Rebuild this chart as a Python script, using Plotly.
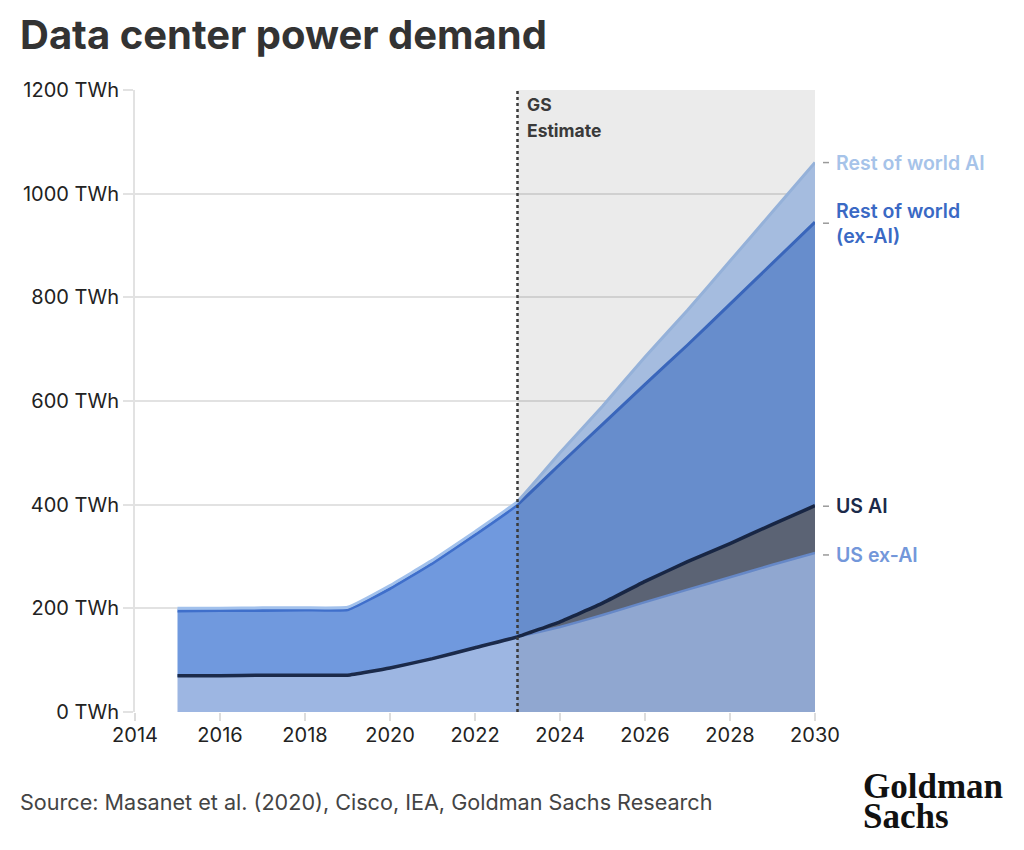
import plotly.graph_objects as go
import numpy as np

years = [2015, 2016, 2017, 2018, 2019, 2020, 2021, 2022, 2023, 2024, 2025, 2026, 2027, 2028, 2029, 2030]
us_ex_ai = [70, 70, 71, 71, 71, 85, 103, 124, 145, 164, 187, 212, 236, 260, 284, 307]
us_ai = [0, 0, 0, 0, 0, 0, 0, 0, 0, 10, 23, 40, 54, 65, 78, 91]
row_ex_ai = [125, 126, 125, 126, 126, 153, 184, 218, 255, 304, 345, 380, 418, 462, 504, 547]
row_ai = [5, 4, 5, 4, 5, 6, 6, 6, 6, 22, 35, 53, 67, 83, 99, 115]

series_names = ["US ex-AI", "US AI", "Rest of world (ex-AI)", "Rest of world AI"]
series_values = [us_ex_ai, us_ai, row_ex_ai, row_ai]
fill_colors = ["#9db6e2", "#636c7e", "#7099de", "#b3cdf2"]
line_colors = ["#6f94d8", "#1b2a4a", "#3f6fcb", "#a2c1ec"]
line_widths = [2.5, 3.5, 3, 3]
label_texts = ["US ex-AI", "US AI", "Rest of world<br>(ex-AI)", "Rest of world AI"]
label_colors = ["#7397da", "#1b2a4a", "#3a69c4", "#a6c3e9"]

estimate_year = 2023
x_ticks = list(range(2014, 2031, 2))
y_ticks = list(range(0, 1201, 200))

FONT = "Inter"
SMOOTH = 0.3

L, R, T, B = 135, 815, 90, 712
def px(xp):
    return (xp - L) / (R - L)
def py(yp):
    return (B - yp) / (B - T)

fig = go.Figure()

for name, vals, fc in zip(series_names, series_values, fill_colors):
    fig.add_trace(go.Scatter(
        x=years, y=vals, name=name, stackgroup="one", mode="lines",
        line=dict(width=0, shape="spline", smoothing=SMOOTH),
        fillcolor=fc, hoverinfo="skip", showlegend=False,
    ))

cum = np.cumsum(np.array(series_values, dtype=float), axis=0)
for i in [0, 2, 3, 1]:
    fig.add_trace(go.Scatter(
        x=years, y=cum[i], mode="lines",
        line=dict(color=line_colors[i], width=line_widths[i], shape="spline", smoothing=SMOOTH),
        hoverinfo="skip", showlegend=False,
    ))

fig.add_shape(type="rect", xref="x", yref="y", x0=estimate_year, x1=2030, y0=0, y1=1200,
              fillcolor="rgba(0,0,0,0.08)", line=dict(width=0), layer="above")
fig.add_shape(type="line", xref="x", yref="y", x0=estimate_year, x1=estimate_year, y0=0, y1=1200,
              line=dict(color="#3a3a3a", width=2.5, dash="dot"), layer="above")

for txt, yp in [("GS", 104), ("Estimate", 130)]:
    fig.add_annotation(x=estimate_year, y=py(yp), xref="x", yref="paper", xanchor="left",
                       yanchor="middle", xshift=7, showarrow=False, text=f"<b>{txt}</b>",
                       font=dict(family=FONT, size=17.5, color="#3a3a3a"))

label_y = [303, 397, 943, 1060]
for txt, col, ly in zip(label_texts, label_colors, label_y):
    fig.add_shape(type="line", xref="paper", yref="y", x0=px(823), x1=px(829), y0=ly, y1=ly,
                  line=dict(color="#9a9a9a", width=1.5))
    fig.add_annotation(x=px(834), y=ly, xref="paper", yref="y", xanchor="left", yanchor="middle",
                       align="left", showarrow=False, text=txt,
                       font=dict(family=FONT, size=19.5, color=col, weight=600))

fig.add_annotation(x=px(18), y=py(34), xref="paper", yref="paper", showarrow=False,
                   xanchor="left", yanchor="middle", text="<b>Data center power demand</b>",
                   font=dict(family=FONT, size=40, color="#333333"))
fig.add_annotation(x=px(18), y=py(802), xref="paper", yref="paper", showarrow=False,
                   xanchor="left", yanchor="middle",
                   text="Source: Masanet et al. (2020), Cisco, IEA, Goldman Sachs Research",
                   font=dict(family=FONT, size=21.6, color="#444444"))
for txt, yp in [("Goldman", 786), ("Sachs", 816)]:
    fig.add_annotation(x=px(865), y=py(yp), xref="paper", yref="paper", showarrow=False,
                       xanchor="left", yanchor="middle", text=f"<b>{txt}</b>", borderpad=0,
                       xshift=-3, font=dict(family="Liberation Serif", size=35, color="#111111"))

fig.update_layout(
    width=1024, height=850,
    margin=dict(l=L, r=1024 - R, t=T, b=850 - B),
    paper_bgcolor="white", plot_bgcolor="white",
    showlegend=False,
    font=dict(family=FONT, color="#222222"),
)

fig.update_xaxes(range=[2014, 2030], tickvals=x_ticks, ticktext=[str(t) for t in x_ticks],
                 showgrid=False, zeroline=False, showline=False,
                 ticks="outside", ticklen=8, tickwidth=2, tickcolor="#dddddd",
                 ticklabelstandoff=-3,
                 tickfont=dict(family=FONT, size=20, color="#222222"))
fig.update_yaxes(range=[0, 1200], tickvals=y_ticks, ticktext=[f"{t} TWh" for t in y_ticks],
                 showgrid=True, gridcolor="#e2e2e2", gridwidth=2, zeroline=False,
                 showline=True, linecolor="#e2e2e2", linewidth=2,
                 ticks="outside", ticklen=10, tickwidth=2, tickcolor="#e2e2e2",
                 tickfont=dict(family=FONT, size=20, color="#222222"))

fig.write_html("out.html")
